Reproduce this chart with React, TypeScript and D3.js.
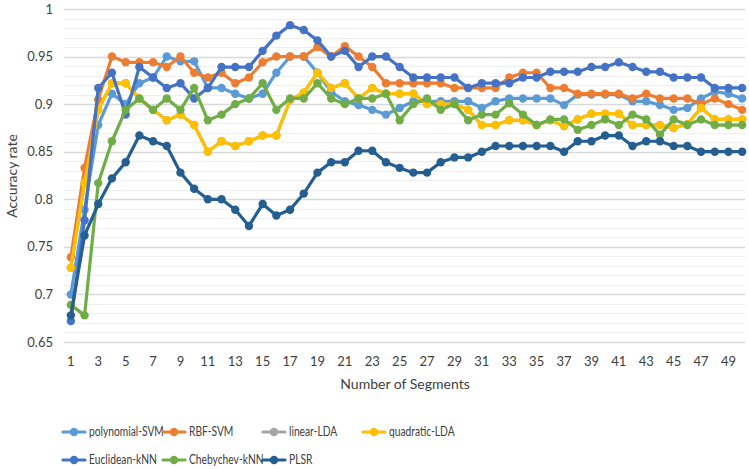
import React from "react";
import * as d3 from "d3";

const segments: number[] = d3.range(1, 51);
const xTickLabels: number[] = d3.range(1, 50, 2);
const yTicks: number[] = [0.65, 0.7, 0.75, 0.8, 0.85, 0.9, 0.95, 1];

const seriesNames = [
  "polynomial-SVM",
  "RBF-SVM",
  "linear-LDA",
  "quadratic-LDA",
  "Euclidean-kNN",
  "Chebychev-kNN",
  "PLSR",
];
const seriesColors = ["#5B9BD5", "#ED7D31", "#A5A5A5", "#FFC000", "#4472C4", "#70AD47", "#255E91"];

const polySVM = [0.700,0.789,0.878,0.911,0.900,0.922,0.928,0.950,0.945,0.945,0.917,0.917,0.911,0.906,0.911,0.933,0.950,0.950,0.933,0.913,0.903,0.899,0.894,0.889,0.896,0.903,0.903,0.903,0.903,0.903,0.896,0.903,0.906,0.906,0.906,0.906,0.899,0.910,0.910,0.910,0.910,0.903,0.903,0.899,0.894,0.896,0.906,0.913,0.911,0.906];
const rbfSVM = [0.739,0.833,0.905,0.950,0.944,0.944,0.944,0.939,0.950,0.933,0.928,0.933,0.922,0.928,0.944,0.950,0.950,0.950,0.960,0.950,0.961,0.950,0.939,0.922,0.922,0.922,0.922,0.922,0.917,0.917,0.917,0.917,0.928,0.933,0.933,0.917,0.917,0.911,0.911,0.911,0.911,0.906,0.911,0.906,0.906,0.906,0.900,0.906,0.900,0.894];
const quadLDA = [0.728,0.817,0.894,0.922,0.922,0.906,0.894,0.883,0.889,0.878,0.850,0.861,0.856,0.861,0.867,0.867,0.904,0.912,0.933,0.917,0.922,0.906,0.917,0.911,0.911,0.911,0.900,0.900,0.900,0.894,0.878,0.878,0.883,0.883,0.878,0.883,0.877,0.884,0.890,0.890,0.890,0.878,0.878,0.878,0.875,0.879,0.896,0.884,0.884,0.884];
const linLDA = quadLDA.slice();
const euclid = [0.672,0.778,0.917,0.933,0.889,0.939,0.928,0.917,0.922,0.906,0.917,0.939,0.939,0.939,0.956,0.972,0.983,0.978,0.967,0.950,0.956,0.939,0.950,0.950,0.939,0.928,0.928,0.928,0.928,0.917,0.922,0.922,0.922,0.928,0.928,0.934,0.934,0.934,0.939,0.939,0.944,0.939,0.934,0.934,0.928,0.928,0.928,0.917,0.917,0.917];
const cheb = [0.689,0.678,0.817,0.861,0.894,0.906,0.894,0.906,0.894,0.917,0.883,0.889,0.900,0.906,0.922,0.894,0.906,0.906,0.922,0.906,0.900,0.906,0.906,0.911,0.883,0.900,0.906,0.894,0.900,0.883,0.889,0.889,0.901,0.889,0.878,0.884,0.884,0.873,0.878,0.884,0.878,0.889,0.884,0.868,0.884,0.878,0.884,0.878,0.878,0.878];
const plsr = [0.678,0.762,0.795,0.822,0.839,0.867,0.861,0.856,0.828,0.811,0.800,0.800,0.789,0.772,0.795,0.783,0.789,0.806,0.828,0.839,0.839,0.851,0.851,0.839,0.833,0.828,0.828,0.839,0.844,0.844,0.850,0.856,0.856,0.856,0.856,0.856,0.850,0.861,0.861,0.867,0.867,0.856,0.861,0.861,0.856,0.856,0.850,0.850,0.850,0.850];

const seriesValues = [polySVM, rbfSVM, linLDA, quadLDA, euclid, cheb, plsr];

const W = 749;
const H = 469;
const FONT = "Lato, 'Open Sans', sans-serif";

export default function App() {
  const x = d3.scalePoint<number>().domain(segments).range([64, 749]).padding(0.5);
  const y = d3.scaleLinear().domain([0.65, 1]).range([342, 9]);
  const minorTicks = d3.range(65, 101).map((v) => v / 100);
  const line = d3
    .line<number>()
    .x((_, i) => x(segments[i]) as number)
    .y((d) => y(d));

  const legendItems = seriesNames.map((name, i) => {
    const row = i < 4 ? 0 : 1;
    const col = i < 4 ? i : i - 4;
    return { name, color: seriesColors[i], lx: 63 + col * 100, ly: 432 + row * 28 };
  });

  return (
    <svg
      width={W}
      height={H}
      style={{ position: "absolute", left: 0, top: 0, display: "block", background: "#fff" }}
      fontFamily={FONT}
    >
      <rect x={0} y={0} width={W} height={H} fill="#fff" />
      {minorTicks.map((t) => (
        <line key={"m" + t} x1={64} x2={745} y1={Math.round(y(t)) + 0.5} y2={Math.round(y(t)) + 0.5} stroke="#efefef" strokeWidth={1} />
      ))}
      {yTicks.map((t) => (
        <line key={"g" + t} x1={64} x2={745} y1={Math.round(y(t)) + 0.5} y2={Math.round(y(t)) + 0.5} stroke="#d9d9d9" strokeWidth={1.3} />
      ))}
      {yTicks.map((t) => (
        <text key={"yt" + t} x={53} y={y(t)} dy="0.35em" textAnchor="end" fontSize={13} fill="#404040">
          {String(t)}
        </text>
      ))}
      {xTickLabels.map((t) => (
        <text key={"xt" + t} x={x(t)} y={366} textAnchor="middle" fontSize={13} fill="#404040">
          {t}
        </text>
      ))}
      <text x={405} y={389} textAnchor="middle" fontSize={14} fill="#404040">
        Number of Segments
      </text>
      <text transform="translate(17,176) rotate(-90)" textAnchor="middle" fontSize={14} fill="#404040">
        Accuracy rate
      </text>
      {seriesValues.map((vals, si) => (
        <g key={"s" + si}>
          <path d={line(vals) || ""} fill="none" stroke={seriesColors[si]} strokeWidth={3.2} strokeLinejoin="round" strokeLinecap="round" />
          {vals.map((v, i) => (
            <circle key={i} cx={x(segments[i])} cy={y(v)} r={4.2} fill={seriesColors[si]} />
          ))}
        </g>
      ))}
      {legendItems.map((it) => (
        <g key={it.name}>
          <line x1={it.lx} x2={it.lx + 22} y1={it.ly} y2={it.ly} stroke={it.color} strokeWidth={3.2} strokeLinecap="round" />
          <circle cx={it.lx + 11} cy={it.ly} r={4.2} fill={it.color} />
          <text
            transform={`translate(${it.lx + 26},${it.ly}) scale(0.82,1)`}
            dy="0.35em"
            fontSize={12.5}
            fill="#404040"
          >
            {it.name}
          </text>
        </g>
      ))}
    </svg>
  );
}
